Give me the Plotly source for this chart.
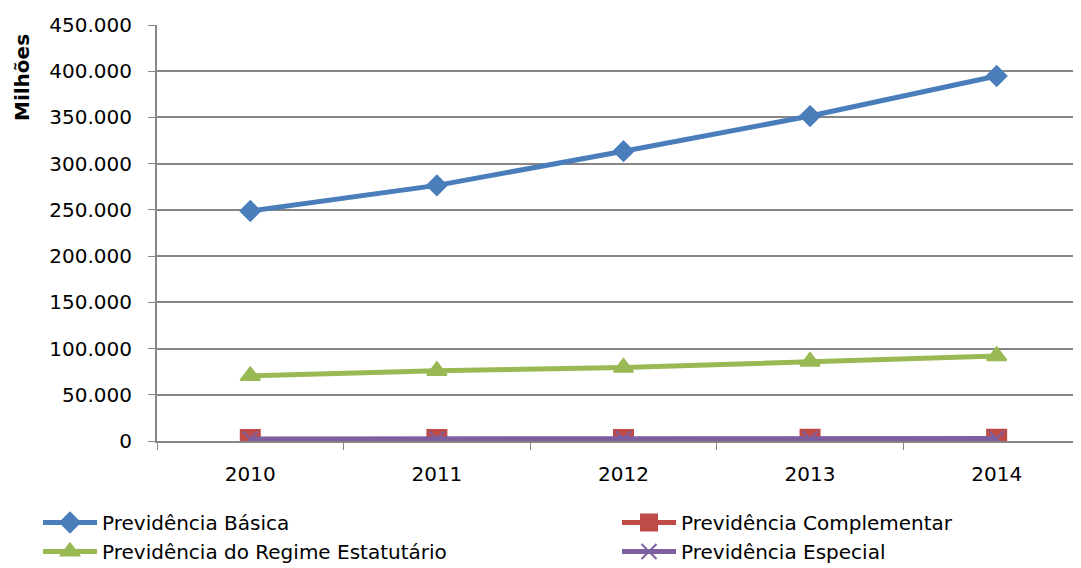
import plotly.graph_objects as go

years = ["2010", "2011", "2012", "2013", "2014"]
basica = [248800, 276500, 313500, 351500, 394800]
complementar = [1500, 1600, 1700, 1800, 1900]
estatutario = [70500, 76000, 79500, 86000, 92000]
especial = [2200, 2300, 2400, 2500, 2600]

series = [
    ("Previdência Básica", basica, "#4A7EBB", "diamond", 15, "legend"),
    ("Previdência Complementar", complementar, "#BE4B48", "square", 19, "legend2"),
    ("Previdência do Regime Estatutário", estatutario, "#98B954", "triangle-up", 17, "legend"),
    ("Previdência Especial", especial, "#7D5FA0", "x-thin-open", 15, "legend2"),
]

font = "DejaVu Sans"
OFF = 8  # page body margin offset
W, H = 1081 - OFF, 568 - OFF
L, R, T = 157 - OFF, 0, 25 - OFF
B = H - (441 - OFF)
PW = W - L - R
PH = H - T - B

def px_x(xref):
    return (xref - OFF - L) / PW

def px_y(yref):
    return ((441 - OFF) - (yref - OFF)) / PH

fig = go.Figure()
for name, vals, color, sym, size, leg in series:
    fig.add_trace(go.Scatter(
        x=years, y=vals, name=name, mode="lines+markers",
        line=dict(color=color, width=5),
        marker=dict(symbol=sym, size=size, color=color,
                    line=dict(color=color, width=2)),
        legend=leg,
    ))

legcommon = dict(orientation="v", yanchor="top", xanchor="left",
                 font=dict(size=20, family=font), tracegroupgap=0,
                 itemwidth=54, bgcolor="rgba(0,0,0,0)")
fig.update_layout(
    width=W, height=H,
    margin=dict(l=L, r=R, t=T, b=B, autoexpand=False),
    paper_bgcolor="white", plot_bgcolor="white",
    font=dict(family=font, size=20, color="black"),
    showlegend=True,
    legend=dict(x=px_x(38), y=px_y(503), **legcommon),
    legend2=dict(x=px_x(617), y=px_y(503), **legcommon),
    separators=",.",
)
fig.update_xaxes(
    type="category", range=[-0.5, 4.452],
    showgrid=False, showline=True, linecolor="#868686", linewidth=2,
    ticks="outside", tickson="boundaries", ticklen=7, tickcolor="#868686",
    tickwidth=1, tickfont=dict(size=20), ticklabelstandoff=14,
)
fig.update_yaxes(
    range=[0, 450000], dtick=50000, tickformat=",.0f",
    showgrid=True, gridcolor="#868686", gridwidth=2,
    showline=True, linecolor="#868686", linewidth=2,
    ticks="outside", ticklen=7, tickcolor="#868686",
    zeroline=False, tickfont=dict(size=20), ticklabelstandoff=12,
)
fig.add_annotation(text="<b>Milhões</b>", xref="paper", yref="paper",
                   x=px_x(22), y=px_y(78), textangle=-90, showarrow=False,
                   font=dict(size=20, family=font), xanchor="center", yanchor="middle")
fig.write_html("out.html")
